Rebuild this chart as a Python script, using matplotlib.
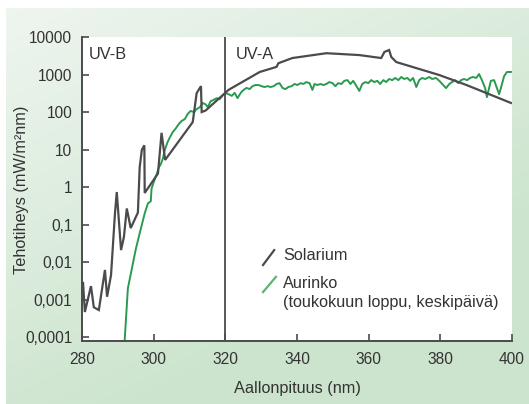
import matplotlib
matplotlib.use('Agg')
import matplotlib.pyplot as plt
import numpy as np

plt.rcParams['font.family'] = ['Liberation Sans', 'DejaVu Sans']

# Solarium spektri (aallonpituus nm, tehotiheys mW/m2nm)
sol_nm = [280.3, 280.8, 282.5, 283.3, 284.7, 286.4, 287.0, 288.1, 289.2, 289.7,
          290.9, 291.7, 292.5, 293.6, 295.6, 296.1, 296.7, 297.4, 297.5, 301.2,
          302.2, 303.2, 310.9, 312.0, 313.2, 313.4, 314.5, 320.9, 329.6, 334.3,
          334.8, 338.7, 348.2, 357.4, 363.5, 364.4, 365.7, 366.3, 367.7, 379.7,
          387.2, 399.7]
sol_val = [0.0028, 0.00047, 0.0023, 0.00063, 0.00053, 0.0062, 0.0012, 0.0045, 0.2, 0.74,
           0.021, 0.047, 0.27, 0.081, 0.21, 3.4, 9.8, 13, 0.7, 2.3,
           28, 5.3, 54, 320, 490, 100, 110, 390, 1170, 1600,
           2000, 2750, 3700, 3300, 2750, 4000, 4500, 2950, 2150, 970,
           530, 175]

# Auringon spektri, toukokuun loppu, keskipäivä
sun_nm = [291.9, 292.8, 293.6, 295.0, 296.1, 297.5, 298.4, 299.2, 299.4, 300.0,
          300.9, 301.4, 302.0, 302.6, 303.1, 303.9, 304.5, 305.3, 306.2, 307.0,
          307.8, 308.7, 309.5, 310.3, 311.2, 312.0, 312.9, 313.7, 314.5, 315.1,
          315.9, 316.7, 317.6, 318.4, 319.3, 320.1, 320.9, 321.8, 322.6, 323.4,
          324.3, 325.1, 325.9, 326.8, 327.6, 328.4, 329.3, 330.1, 330.9, 331.8,
          332.6, 333.5, 334.3, 335.1, 336.0, 336.8, 337.6, 338.5, 339.3, 340.1,
          341.0, 341.8, 342.6, 343.5, 344.3, 344.9, 345.7, 346.5, 347.4, 348.2,
          349.0, 349.9, 350.7, 351.5, 352.4, 353.2, 354.1, 354.9, 355.7, 356.6,
          357.4, 358.2, 359.1, 359.9, 360.7, 361.6, 362.4, 363.2, 364.1, 364.9,
          365.7, 366.6, 367.4, 368.3, 369.1, 369.9, 370.8, 371.6, 372.4, 373.3,
          374.1, 374.9, 375.8, 376.9, 377.7, 378.8, 379.7, 380.8, 381.6, 382.5,
          383.3, 384.1, 385.0, 385.8, 386.6, 387.5, 388.3, 389.1, 390.0, 390.8,
          391.6, 392.5, 393.0, 393.6, 394.1, 395.0, 395.5, 396.4, 396.9, 397.8,
          398.6, 399.7]
sun_val = [0.00008, 0.002, 0.0048, 0.022, 0.059, 0.2, 0.37, 0.42, 0.9, 1.35,
           2.3, 3.3, 4.1, 5.9, 9.8, 16, 21, 29, 37, 48,
           58, 65, 89, 107, 100, 120, 135, 175, 160, 135,
           195, 210, 235, 220, 280, 320, 300, 270, 325, 235,
           325, 390, 440, 410, 490, 525, 525, 490, 465, 490,
           465, 490, 560, 590, 435, 410, 465, 490, 560, 525,
           590, 560, 630, 590, 390, 560, 525, 560, 525, 560,
           630, 590, 490, 590, 560, 680, 710, 560, 680, 490,
           365, 560, 630, 590, 710, 630, 680, 560, 710, 630,
           760, 710, 810, 710, 860, 760, 810, 680, 810, 465,
           710, 810, 760, 860, 760, 810, 680, 525, 435, 560,
           630, 710, 590, 710, 760, 710, 810, 860, 810, 1030,
           710, 435, 250, 435, 680, 710, 525, 300, 435, 910,
           1170, 1170]

yticks = [1e-4, 1e-3, 1e-2, 1e-1, 1, 10, 100, 1000, 10000]
ylabels = ['0,0001', '0,001', '0,01', '0,1', '1', '10', '100', '1000', '10000']
xticks = [280, 300, 320, 340, 360, 380, 400]
uv_raja = 320  # UV-B / UV-A raja (nm)

txt = '#333333'
grey = '#4b4b4d'
green = '#2a9a50'

fig = plt.figure(figsize=(5.29, 4.04), dpi=100)
fig.patch.set_facecolor('white')

# vihreä liukuväritausta
bg = fig.add_axes([6 / 529, 0, 1 - 6 / 529, 1 - 8 / 404], zorder=-1)
u = np.linspace(0, 1, 200)[None, :]
v = np.linspace(0, 1, 160)[:, None]
t = np.clip(0.55 * u + 0.85 * v, 0, 1)
light = np.array([0.935, 0.962, 0.937])
dark = np.array([0.80, 0.895, 0.805])
img = light[None, None, :] * (1 - t[..., None]) + dark[None, None, :] * t[..., None]
bg.imshow(img, aspect='auto', extent=[0, 1, 1, 0])
bg.axis('off')

ax = fig.add_axes([82 / 529, 1 - 341 / 404, 430 / 529, 304 / 404])
ax.set_facecolor('white')

ax.plot(sol_nm, sol_val, color=grey, lw=1.6, solid_joinstyle='miter', zorder=3)
ax.plot(sun_nm, sun_val, color=green, lw=1.4, zorder=2)
ax.axvline(uv_raja, color=grey, lw=1.3, zorder=4)

ax.set_yscale('log')
ax.set_xlim(280, 400)
ax.set_ylim(10 ** -4.1, 1e4)
ax.set_xticks(xticks)
ax.set_yticks(yticks)
ax.set_yticklabels(ylabels)
ax.minorticks_off()
ax.tick_params(direction='in', length=5, width=1.2, color=grey, labelcolor=txt,
               labelsize=11.2)
ax.tick_params(axis='y', pad=7)
ax.tick_params(axis='x', pad=8)

for s in ['top', 'right']:
    ax.spines[s].set_visible(False)
for s in ['left', 'bottom']:
    ax.spines[s].set_color(grey)
    ax.spines[s].set_linewidth(1.4)

ax.set_xlabel('Aallonpituus (nm)', fontsize=11.7, color=txt, labelpad=10)
fig.text(22 / 529, 1 - 190 / 404, 'Tehotiheys (mW/m²nm)', rotation=90,
         fontsize=11.7, color=txt, ha='center', va='center')

ax.text(0.016, 0.942, 'UV-B', transform=ax.transAxes, fontsize=11.7,
        color=txt, va='center')
ax.text(0.358, 0.942, 'UV-A', transform=ax.transAxes, fontsize=11.7,
        color=txt, va='center')

# selite
ax.plot([0.421, 0.447], [0.25, 0.299], transform=ax.transAxes, color=grey, lw=1.6)
ax.plot([0.421, 0.451], [0.161, 0.211], transform=ax.transAxes, color='#5ab66e', lw=1.6)
ax.text(0.468, 0.280, 'Solarium', transform=ax.transAxes, fontsize=11.7,
        color=txt, va='center')
ax.text(0.468, 0.1875, 'Aurinko', transform=ax.transAxes, fontsize=11.7,
        color=txt, va='center')
ax.text(0.468, 0.125, '(toukokuun loppu, keskipäivä)', transform=ax.transAxes,
        fontsize=11.7, color=txt, va='center')

fig.savefig('out.png', dpi=100)
